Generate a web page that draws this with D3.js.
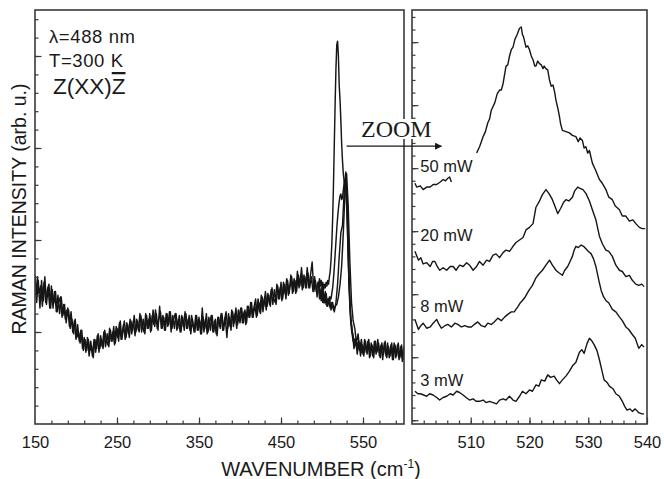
<!DOCTYPE html>
<html>
<head>
<meta charset="utf-8">
<script src="https://cdn.jsdelivr.net/npm/d3@7/dist/d3.min.js"></script>
<style>
  html, body { margin: 0; padding: 0; background: #fff; }
  svg { display: block; }
  text { font-family: "Liberation Sans", Arial, Helvetica, sans-serif; fill: #1a1a1a; }
</style>
</head>
<body>
<svg id="chart" width="664" height="479"></svg>
<script>
// ---- Full spectra (left panel), 2 cm^-1 grids, intensities in arb. u.
const grid3mW = { start: 150, step: 2 };
const full3mW = [
  8.1, 6.6, 7.8, 6.3, 7.8, 6.7, 8.0, 6.5, 7.4, 6.3,
  7.5, 6.3, 7.2, 6.1, 7.0, 6.0, 6.9, 5.9, 6.5, 5.5,
  6.3, 5.3, 6.1, 5.0, 5.6, 4.6, 5.4, 4.5, 5.1, 4.1,
  4.7, 3.9, 4.7, 3.7, 4.5, 3.7, 4.6, 3.9, 4.8, 3.9,
  4.8, 4.2, 5.0, 4.2, 4.9, 4.2, 5.1, 4.5, 5.3, 4.4,
  5.2, 4.5, 5.6, 4.6, 5.4, 4.6, 5.5, 4.9, 5.7, 4.9,
  5.6, 4.8, 5.7, 5.1, 6.0, 5.0, 5.7, 4.9, 5.9, 5.2,
  6.0, 5.1, 6.2, 5.3, 6.0, 5.1, 6.4, 5.2, 5.9, 5.1,
  6.0, 5.3, 6.1, 5.0, 5.9, 5.2, 6.0, 5.2, 5.9, 5.0,
  5.8, 5.1, 6.0, 5.2, 5.9, 4.9, 5.7, 5.0, 5.9, 5.1,
  5.8, 4.9, 6.3, 5.0, 5.7, 4.9, 5.8, 5.1, 5.9, 5.0,
  5.7, 4.8, 5.8, 5.2, 6.0, 5.1, 5.8, 4.7, 6.0, 5.3,
  6.2, 5.3, 6.0, 5.2, 6.2, 5.5, 6.3, 5.5, 6.2, 5.5,
  6.4, 5.8, 6.6, 5.8, 6.5, 5.8, 6.8, 6.1, 7.0, 6.1,
  6.9, 6.2, 7.1, 6.5, 7.3, 6.5, 7.3, 6.5, 7.5, 6.8,
  7.7, 6.8, 7.6, 6.8, 7.8, 7.1, 8.1, 7.1, 7.9, 7.1,
  8.3, 7.4, 8.1, 7.3, 8.1, 7.4, 8.5, 7.4, 8.1, 8.8,
  7.2, 7.8, 6.9, 7.7, 6.9, 7.4, 6.6, 7.2, 6.4, 6.8,
  6.3, 6.6, 6.2, 6.4, 6.5, 6.9, 7.6, 8.6, 10.4, 12.6,
  13.6, 11.8, 8.8, 6.6, 5.6, 5.2, 4.4, 4.9, 4.0, 4.6,
  3.8, 4.6, 3.9, 4.5, 3.6, 4.4, 3.7, 4.5, 3.8, 4.6,
  3.7, 4.3, 3.5, 4.4, 3.7, 4.4, 3.6, 4.3, 3.5, 4.4,
  3.6, 4.3, 3.5, 4.2, 3.4, 4.2
];
const grid8mW = { start: 151, step: 2 };
const full8mW = [
  7.0, 8.0, 7.1, 7.5, 6.4, 7.7, 6.6, 7.3, 7.6, 6.3,
  7.3, 6.6, 7.2, 6.1, 6.6, 6.9, 5.8, 6.5, 5.7, 6.2,
  6.2, 5.2, 5.7, 4.9, 5.7, 4.7, 5.0, 4.4, 5.1, 4.0,
  4.6, 4.0, 4.6, 4.0, 4.2, 3.6, 4.6, 4.1, 4.9, 4.1,
  4.6, 4.1, 5.1, 4.5, 4.3, 5.2, 4.5, 5.0, 4.3, 5.3,
  4.7, 5.5, 4.6, 5.1, 5.6, 4.7, 5.4, 4.7, 5.6, 5.1,
  5.9, 5.0, 5.6, 5.0, 5.9, 5.3, 5.0, 6.0, 5.2, 5.7,
  5.0, 5.9, 5.4, 6.2, 5.2, 5.7, 6.1, 5.2, 5.8, 5.1,
  6.0, 5.4, 6.1, 5.2, 5.7, 6.0, 5.1, 5.7, 5.0, 5.9,
  5.3, 6.1, 5.2, 5.7, 5.1, 5.9, 5.3, 5.0, 5.9, 5.1,
  5.6, 4.9, 5.8, 5.2, 6.0, 5.0, 5.5, 5.9, 5.0, 5.6,
  4.9, 5.8, 5.3, 6.0, 5.1, 5.6, 6.1, 5.2, 5.8, 5.1,
  6.1, 5.5, 6.3, 5.4, 5.9, 6.3, 5.5, 6.1, 5.4, 6.4,
  5.8, 6.6, 5.8, 6.3, 6.8, 5.9, 6.6, 6.0, 6.9, 6.4,
  7.2, 6.4, 7.0, 6.4, 7.4, 6.8, 6.6, 7.6, 6.8, 7.4,
  6.7, 7.7, 7.1, 7.9, 7.0, 7.5, 8.0, 7.2, 7.8, 7.2,
  8.1, 7.5, 8.5, 7.4, 8.0, 7.4, 8.2, 7.4, 8.0, 7.2,
  8.0, 7.2, 7.7, 7.5, 6.9, 7.4, 6.6, 7.1, 6.4, 6.9,
  6.2, 6.6, 6.1, 6.6, 7.6, 9.1, 10.4, 10.8, 12.6, 13.7,
  12.0, 8.0, 5.7, 5.0, 4.1, 4.6, 3.8, 4.5, 3.7, 4.3,
  3.7, 4.5, 3.8, 4.6, 3.7, 4.3, 3.6, 4.5, 3.9, 4.4,
  3.6, 4.4, 3.8, 4.5, 3.6, 4.2, 3.7, 4.4, 3.5, 4.3,
  3.7, 4.4, 3.6, 4.3, 3.5
];

// ---- Higher-power spectra around the Si phonon (left panel), 1 cm^-1 grid
const gridPeak = { start: 496, step: 1 };
const full50mW = [
  7.6, 7.9, 7.5, 7.8, 7.4, 7.7, 7.3, 7.6, 7.4, 7.7,
  7.5, 7.8, 7.6, 8.0, 8.3, 8.9, 9.8, 11.2, 13.0, 15.2,
  17.4, 19.3, 20.6, 20.8, 20.0, 18.4, 17.6, 16.5, 15.2, 14.3,
  13.6, 13.2, 12.9, 12.6, 11.9, 10.6, 9.0, 7.6, 6.6, 5.9,
  5.4, 5.0, 4.8, 4.5, 4.6, 4.3, 4.5, 4.2, 4.4, 4.1,
  4.3, 4.0, 4.2, 4.0, 4.2
];
const full20mW = [
  7.3, 6.8, 7.2, 6.7, 7.1, 6.6, 7.0, 6.6, 6.9, 6.5,
  6.8, 6.5, 6.8, 6.6, 6.9, 6.8, 7.1, 7.4, 7.9, 8.5,
  9.2, 9.9, 10.6, 11.2, 11.7, 12.1, 12.4, 12.5, 12.2, 12.3,
  12.7, 13.1, 13.3, 13.0, 12.2, 10.8, 9.0, 7.5, 6.4, 5.6,
  5.1, 4.8, 4.5, 4.6, 4.3, 4.5, 4.2, 4.4, 4.1, 4.3,
  4.0, 4.2, 3.9, 4.1, 3.9
];

// ---- Zoomed spectra (right panel): [wavenumber, offset intensity]; null = hidden stretch
const zoom50mW = [
  [500.5,18.8],[500.8,18.5],[501.4,18.6],[501.9,18.3],[502.5,18.5],[503.1,18.5],[503.6,18.7],
  [504.2,18.7],[504.8,18.9],[505.3,19.1],[505.7,19.0],[506.1,19.2],[506.4,19.3],[506.7,18.9],
  [508.5,null],
  [511.0,21.2],[511.5,21.7],[512.1,22.5],[512.5,22.9],[512.9,23.6],[513.2,23.9],[513.5,24.6],
  [514.1,25.2],[514.5,25.9],[514.9,26.2],[515.2,26.2],[515.5,26.7],[516.0,28.1],[516.3,28.2],
  [516.6,28.9],[516.9,29.4],[517.2,29.6],[517.5,30.2],[517.9,30.6],[518.3,31.1],[518.6,31.2],
  [518.8,30.6],[519.0,30.4],[519.4,29.6],[519.7,29.7],[520.0,29.4],[520.3,28.9],[520.6,28.6],
  [520.9,28.1],[521.1,28.1],[521.4,28.5],[521.7,28.3],[522.0,28.2],[522.3,27.9],[522.5,28.1],
  [522.8,27.9],[523.1,27.8],[523.4,27.0],[523.7,26.5],[524.0,26.6],[524.3,26.0],[524.5,25.4],
  [524.8,24.8],[525.1,24.1],[525.3,23.5],[525.6,23.0],[526.2,22.9],[526.8,22.8],[527.3,22.6],
  [527.9,22.5],[528.3,22.1],[528.6,22.4],[529.0,22.2],[529.3,21.6],[529.6,21.7],[529.9,21.2],
  [530.2,21.4],[530.7,20.4],[531.2,19.9],[531.9,19.1],[532.4,18.8],[533.0,18.3],[533.5,17.7],
  [534.1,17.5],[534.6,17.0],[535.3,16.7],[535.8,16.2],[536.4,16.2],[537.0,15.8],[537.6,15.9],
  [538.1,15.6],[538.7,15.3],[539.2,15.2],[539.7,15.2]
];
const zoom20mW = [
  [500.5,13.4],[501.1,12.7],[501.5,12.9],[501.9,12.4],[502.5,12.5],[503.1,12.2],[503.5,12.6],
  [503.9,12.6],[504.3,12.2],[504.7,11.9],[505.3,12.1],[505.9,11.9],[506.5,12.2],[507.0,12.2],
  [507.5,11.9],[508.1,12.3],[508.7,12.2],[509.3,12.5],[509.8,12.3],[510.4,11.9],[511.0,12.2],
  [511.5,12.6],[512.1,12.3],[512.7,12.7],[513.2,12.6],[513.8,13.1],[514.3,13.2],[514.9,12.9],
  [515.5,13.3],[516.0,13.5],[516.6,13.4],[517.2,13.8],[517.7,14.1],[518.3,14.3],[518.9,14.5],
  [519.4,15.1],[520.0,15.3],[520.6,15.6],[521.1,16.9],[521.6,17.3],[522.2,17.9],[522.8,18.3],
  [523.3,18.0],[523.9,17.5],[524.4,16.9],[524.8,16.4],[525.3,16.8],[525.8,17.3],[526.2,17.5],
  [526.7,17.4],[527.3,17.7],[527.7,18.2],[528.2,18.5],[528.6,18.4],[529.1,18.3],[529.6,18.0],
  [530.2,17.4],[530.7,16.7],[531.3,15.9],[531.9,14.6],[532.4,14.0],[533.0,13.5],[533.5,13.4],
  [534.1,13.0],[534.7,12.3],[535.3,11.9],[535.8,11.8],[536.4,11.4],[537.0,11.5],[537.5,11.1],
  [538.1,10.8],[538.6,10.7],[539.1,10.8],[539.5,10.6]
];
const zoom8mW = [
  [500.5,8.0],[501.1,7.2],[501.5,7.5],[501.9,7.7],[502.5,7.3],[503.1,7.4],[503.6,7.7],
  [504.2,8.0],[504.6,7.6],[505.0,7.3],[505.6,7.5],[506.1,7.6],[506.7,7.4],[507.3,7.7],
  [507.8,7.6],[508.4,7.4],[509.0,7.5],[509.5,7.4],[510.1,7.4],[510.6,7.6],[511.2,7.8],
  [511.8,7.5],[512.4,7.4],[512.9,7.7],[513.5,7.6],[514.0,7.8],[514.6,8.1],[515.2,7.9],
  [515.8,8.2],[516.3,8.4],[516.9,8.6],[517.4,8.6],[518.0,9.0],[518.4,9.3],[518.8,9.5],
  [519.3,9.8],[519.9,10.3],[520.5,10.7],[521.1,11.3],[521.6,11.6],[522.2,11.9],[522.8,12.3],
  [523.4,12.7],[523.9,12.3],[524.5,11.9],[525.0,11.7],[525.6,11.5],[526.0,11.9],[526.5,12.2],
  [526.9,12.6],[527.3,13.0],[527.6,13.5],[527.9,13.8],[528.3,13.7],[528.8,13.9],[529.2,13.8],
  [529.6,13.6],[530.0,13.4],[530.5,13.2],[530.9,12.8],[531.3,12.2],[531.8,11.1],[532.2,10.3],
  [532.6,9.8],[533.0,9.5],[533.5,9.3],[534.1,8.8],[534.7,8.6],[535.3,8.2],[535.8,7.9],
  [536.4,7.4],[536.9,7.2],[537.5,6.8],[538.0,6.5],[538.6,5.7],[539.1,6.0],[539.5,5.8]
];
const zoom3mW = [
  [500.5,2.3],[501.0,2.1],[501.4,2.1],[502.0,2.0],[502.5,1.9],[503.0,2.1],[503.6,2.0],
  [504.2,1.8],[504.7,1.6],[505.3,1.8],[505.9,1.9],[506.5,2.1],[507.0,2.0],[507.6,2.3],
  [508.1,2.2],[508.7,2.0],[509.2,1.8],[509.8,1.6],[510.4,1.7],[510.9,1.5],[511.5,1.5],
  [512.1,1.6],[512.6,1.4],[513.2,1.5],[513.8,1.4],[514.4,1.3],[514.9,1.6],[515.5,1.7],
  [516.0,1.6],[516.6,1.9],[517.2,1.6],[517.7,1.5],[518.3,1.9],[518.8,2.3],[519.4,2.1],
  [520.0,2.4],[520.5,2.3],[521.1,2.8],[521.6,2.7],[522.0,3.2],[522.6,3.1],[523.1,3.6],
  [523.6,3.4],[524.2,3.5],[524.6,3.2],[525.1,2.9],[525.6,3.2],[526.2,3.5],[526.8,3.9],
  [527.3,4.3],[527.9,4.6],[528.5,5.4],[528.9,5.6],[529.3,5.3],[529.8,6.1],[530.2,6.5],
  [530.6,6.3],[531.0,6.0],[531.5,5.5],[531.9,4.8],[532.3,4.0],[532.7,3.2],[533.2,3.0],
  [533.6,2.7],[534.2,2.5],[534.7,2.1],[535.3,1.9],[535.8,1.5],[536.2,1.1],[536.6,0.8],
  [537.1,0.9],[537.5,0.7],[538.0,0.9],[538.6,0.6],[539.1,0.5],[539.5,0.5]
];

// ---- Tick labels and annotations
const fullTickLabels = [150, 250, 350, 450, 550];
const zoomTickLabels = [510, 520, 530, 540];
const powerLabels = [
  { text: "50 mW", at: 19.7 },
  { text: "20 mW", at: 14.2 },
  { text: "8 mW",  at: 8.6 },
  { text: "3 mW",  at: 2.75 }
];

// ---- Layout
const svg = d3.select("#chart");
const plotTop = 10, plotBottom = 424;
const xL = d3.scaleLinear().domain([150, 600]).range([35, 404]);
const yL = d3.scaleLinear().domain([0, 22.5]).range([plotBottom, plotTop]);
const xR = d3.scaleLinear().domain([500, 540]).range([412, 647]);
const yR = d3.scaleLinear().domain([-0.3, 32.55]).range([plotBottom, plotTop]);

const ink = "#161616";
const frameInk = "#3a3a3a";

const defs = svg.append("defs");
defs.append("clipPath").attr("id", "clipL").append("rect")
  .attr("x", xL(150)).attr("y", plotTop).attr("width", xL(600) - xL(150)).attr("height", plotBottom - plotTop);
defs.append("clipPath").attr("id", "clipR").append("rect")
  .attr("x", xR(500)).attr("y", plotTop).attr("width", xR(540) - xR(500)).attr("height", plotBottom - plotTop);
defs.append("marker").attr("id", "arrowHead")
  .attr("viewBox", "0 0 10 10").attr("refX", 9).attr("refY", 5)
  .attr("markerWidth", 9).attr("markerHeight", 7).attr("markerUnits", "userSpaceOnUse")
  .attr("orient", "auto")
  .append("path").attr("d", "M0,0 L10,5 L0,10 Z").attr("fill", ink);

// ---- Left panel spectra
const lineL = d3.line().x(d => xL(d[0])).y(d => yL(d[1]));
const gridSeries = (grid, vals) => vals.map((v, i) => [grid.start + i * grid.step, v]);

const gL = svg.append("g").attr("clip-path", "url(#clipL)");
[
  gridSeries(grid3mW, full3mW),
  gridSeries(grid8mW, full8mW),
  gridSeries(gridPeak, full20mW),
  gridSeries(gridPeak, full50mW)
].forEach(series => {
  gL.append("path").datum(series)
    .attr("d", lineL).attr("fill", "none")
    .attr("stroke", ink).attr("stroke-width", 1.45).attr("stroke-linejoin", "round");
});

// ---- Right panel spectra
const lineR = d3.line().defined(d => d[1] !== null).x(d => xR(d[0])).y(d => yR(d[1]));
const gR = svg.append("g").attr("clip-path", "url(#clipR)");
[zoom50mW, zoom20mW, zoom8mW, zoom3mW].forEach(series => {
  gR.append("path").datum(series)
    .attr("d", lineR).attr("fill", "none")
    .attr("stroke", ink).attr("stroke-width", 1.4).attr("stroke-linejoin", "round");
});

// ---- Axes (inward ticks)
function ticks(axis, transform, size) {
  const g = svg.append("g").attr("transform", transform).call(axis.tickSize(size));
  g.select(".domain").remove();
  g.selectAll(".tick line").attr("stroke", frameInk).attr("stroke-width", 1.2);
  return g;
}
const noLabel = () => "";

// left panel: y
ticks(d3.axisLeft(yL).tickValues(d3.range(1, 23)).tickFormat(noLabel), `translate(${xL(150)},0)`, -3.5);
ticks(d3.axisLeft(yL).tickValues([5, 10, 15, 20]).tickFormat(noLabel), `translate(${xL(150)},0)`, -6.5);
// left panel: x
ticks(d3.axisBottom(xL).tickValues(d3.range(170, 600, 20)).tickFormat(noLabel), `translate(0,${plotBottom})`, -3.5);
const axL = ticks(d3.axisBottom(xL).tickValues(fullTickLabels).tickPadding(12).tickFormat(d3.format("d")),
  `translate(0,${plotBottom})`, -6.5);
// right panel: y
ticks(d3.axisLeft(yR).tickValues(d3.range(0, 33)).tickFormat(noLabel), `translate(${xR(500)},0)`, -3.5);
ticks(d3.axisLeft(yR).tickValues([0, 5, 10, 15, 20, 25, 30]).tickFormat(noLabel), `translate(${xR(500)},0)`, -6.5);
// right panel: x
ticks(d3.axisBottom(xR).tickValues(d3.range(502, 540, 2)).tickFormat(noLabel), `translate(0,${plotBottom})`, -3.5);
const axR = ticks(d3.axisBottom(xR).tickValues(zoomTickLabels).tickPadding(12).tickFormat(d3.format("d")),
  `translate(0,${plotBottom})`, -6.5);
[axL, axR].forEach(g => g.selectAll(".tick text")
  .attr("font-size", 16.5).attr("fill", ink));
axL.selectAll(".tick").filter(d => d === 150).select("line").remove();

// ---- Panel frames
svg.append("rect").attr("x", xL(150)).attr("y", plotTop)
  .attr("width", xL(600) - xL(150)).attr("height", plotBottom - plotTop)
  .attr("fill", "none").attr("stroke", frameInk).attr("stroke-width", 1.6);
svg.append("rect").attr("x", xR(500)).attr("y", plotTop)
  .attr("width", xR(540) - xR(500)).attr("height", plotBottom - plotTop)
  .attr("fill", "none").attr("stroke", frameInk).attr("stroke-width", 1.6);

// ---- Measurement conditions
const cond = svg.append("g").attr("font-size", 18.5).attr("letter-spacing", 0.6);
cond.append("text").attr("x", 49).attr("y", 43).text("λ=488 nm");
cond.append("text").attr("x", 49).attr("y", 67).text("T=300 K");
const geom = svg.append("text").attr("x", 53).attr("y", 94).attr("font-size", 22.5);
geom.append("tspan").text("Z(XX)");
geom.append("tspan").style("text-decoration", "overline").text("Z");

// ---- Power labels
svg.append("g").attr("font-size", 16.5).selectAll("text").data(powerLabels).join("text")
  .attr("x", xR(501.4)).attr("y", d => yR(d.at)).text(d => d.text);

// ---- ZOOM annotation
const zoomText = svg.append("text").attr("x", 361).attr("y", 137)
  .style("font-family", "'Liberation Serif', 'Times New Roman', Times, serif")
  .attr("font-size", 24).text("ZOOM");
const bb = zoomText.node().getBBox();
svg.insert("rect", () => zoomText.node())
  .attr("x", bb.x - 2).attr("y", bb.y + 3).attr("width", bb.width + 4).attr("height", bb.height - 6)
  .attr("fill", "#fff");
svg.append("line")
  .attr("x1", xL(530)).attr("x2", xR(505)).attr("y1", yL(15.1)).attr("y2", yL(15.1))
  .attr("stroke", ink).attr("stroke-width", 1.4).attr("marker-end", "url(#arrowHead)");

// ---- Axis titles
const xt = svg.append("text").attr("x", 321).attr("y", 476).attr("text-anchor", "middle").attr("font-size", 20);
xt.append("tspan").text("WAVENUMBER (cm");
xt.append("tspan").attr("font-size", 12).attr("dy", -8).text("-1");
xt.append("tspan").attr("dy", 8).text(")");
svg.append("text").attr("transform", "translate(26,209) rotate(-90)")
  .attr("text-anchor", "middle").attr("font-size", 19.5)
  .text("RAMAN INTENSITY (arb. u.)");
</script>
</body>
</html>
